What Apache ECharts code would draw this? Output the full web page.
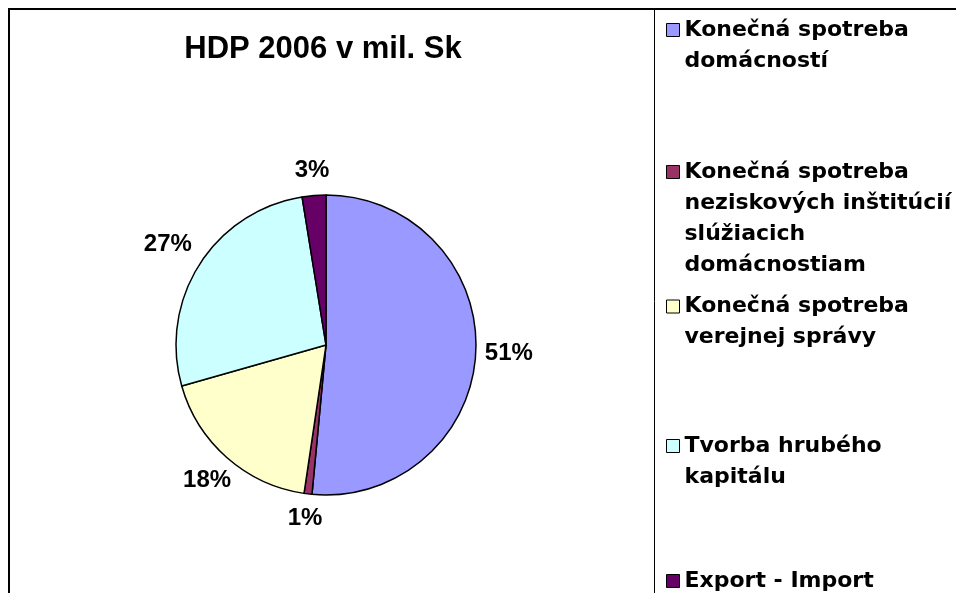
<!DOCTYPE html>
<html>
<head>
<meta charset="utf-8">
<script src="https://cdn.jsdelivr.net/npm/echarts@6/dist/echarts.min.js"></script>
<style>
html,body{margin:0;padding:0;background:#fff;}
#chart{width:956px;height:593px;}
</style>
</head>
<body>
<div id="chart"></div>
<script>
// udaje - podiely na HDP (odcitane z grafu)
var categories = [
    "Konečná spotreba\ndomácností",
    "Konečná spotreba\nneziskových inštitúcií\nslúžiacich\ndomácnostiam",
    "Konečná spotreba\nverejnej správy",
    "Tvorba hrubého\nkapitálu",
    "Export - Import"
];
var values = [51.49, 0.85, 18.25, 26.86, 2.55];
var colors = ["#9999FF", "#993366", "#FFFFCC", "#CCFFFF", "#660066"];

var cx = 326, cy = 345, R = 150;
var labelGap = 9;

// stredne uhly vysekov (od 12 hodin, v smere hodin)
var total = 0;
for (var i = 0; i < values.length; i++) total += values[i];
var mids = [], acc = 0;
for (var i = 0; i < values.length; i++) {
    mids.push((acc + values[i] / 2) / total * Math.PI * 2);
    acc += values[i];
}

var lineH = 31;
var iconCenters = [30, 172, 306.5, 446, 581];

// ikona legendy ma byt pri prvom riadku -> prazdne riadky navrch
function padLines(name) {
    var n = name.split("\n").length;
    var s = name;
    for (var k = 1; k < n; k++) s = " \n" + s;
    return s;
}

var legends = [];
for (var i = 0; i < categories.length; i++) {
    var n = categories[i].split("\n").length;
    legends.push({
        data: [categories[i]],
        left: 666,
        top: iconCenters[i] - (2 * n - 1) * lineH / 2,
        orient: 'vertical',
        padding: 0,
        selectedMode: false,
        icon: 'rect',
        itemWidth: 13,
        itemHeight: 13,
        itemStyle: {borderColor: '#000', borderWidth: 1},
        formatter: padLines,
        textStyle: {
            fontFamily: 'DejaVu Sans',
            fontWeight: 'bold',
            fontSize: 22,
            color: '#000',
            lineHeight: lineH
        }
    });
}

var myChart = echarts.init(document.getElementById('chart'));
var option = {
    backgroundColor: '#fff',
    animation: false,
    color: colors,
    title: {
        text: 'HDP 2006 v mil. Sk',
        left: 323,
        textAlign: 'center',
        top: 34,
        padding: 0,
        textStyle: {
            fontFamily: 'Liberation Sans',
            fontWeight: 'bold',
            fontSize: 31,
            color: '#000'
        }
    },
    legend: legends,
    graphic: [
        {
            type: 'polyline',
            shape: {points: [[9, 700], [9, 9], [1000, 9]]},
            style: {stroke: '#000', lineWidth: 2, fill: null}
        },
        {
            type: 'line',
            shape: {x1: 654.5, y1: 9, x2: 654.5, y2: 700},
            style: {stroke: '#000', lineWidth: 1}
        }
    ],
    series: [
        {
            type: 'pie',
            center: [cx, cy],
            radius: R,
            startAngle: 90,
            clockwise: true,
            avoidLabelOverlap: false,
            itemStyle: {borderColor: '#000', borderWidth: 1.5},
            emphasis: {disabled: true},
            label: {
                show: true,
                position: 'outside',
                fontFamily: 'Liberation Sans',
                fontWeight: 'bold',
                fontSize: 24,
                color: '#000',
                formatter: function (p) {
                    return Math.round(p.percent) + '%';
                }
            },
            labelLine: {show: false, length: 0, length2: 0},
            labelLayout: function (p) {
                var m = mids[p.dataIndex];
                var ux = Math.sin(m), uy = -Math.cos(m);
                var w = p.labelRect.width, h = p.labelRect.height + 8;
                var t = Math.min(w / 2 / Math.max(Math.abs(ux), 1e-6),
                                 h / 2 / Math.max(Math.abs(uy), 1e-6));
                var d = R + labelGap + t;
                return {
                    x: cx + ux * d,
                    y: cy + uy * d,
                    align: 'center',
                    verticalAlign: 'middle'
                };
            },
            data: categories.map(function (c, i) {
                return {name: c, value: values[i]};
            })
        }
    ]
};
myChart.setOption(option);
</script>
</body>
</html>
